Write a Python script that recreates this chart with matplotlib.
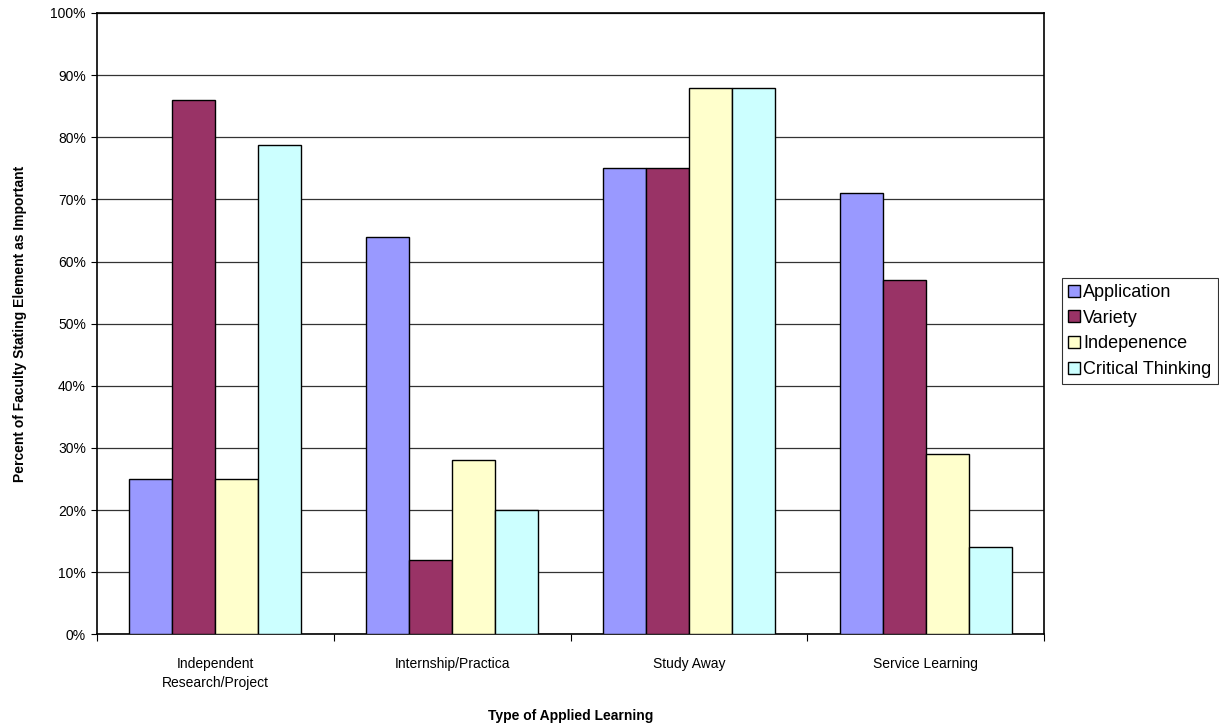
import numpy as np
import matplotlib
matplotlib.use("Agg")
import matplotlib.pyplot as plt
from matplotlib.ticker import PercentFormatter

plt.rcParams['font.family'] = ['Liberation Sans', 'DejaVu Sans']

categories = ["Independent\nResearch/Project", "Internship/Practica", "Study Away", "Service Learning"]
series_names = ["Application", "Variety", "Indepenence", "Critical Thinking"]
application = [25, 64, 75, 71]
variety = [86, 12, 75, 57]
independence = [25, 28, 88, 29]
critical_thinking = [78.7, 20, 88, 14]
colors = ["#9999FF", "#993366", "#FFFFCC", "#CCFFFF"]

W, H = 1219, 727
fig = plt.figure(figsize=(W / 100, H / 100), dpi=100)
ax = fig.add_axes([97 / W, (H - 634.3) / H, (1044 - 97) / W, (634.3 - 13) / H])

n_series = 4
gap = 1.5
bar_w = 1.0 / (n_series + gap)
x = np.arange(len(categories))
all_values = [application, variety, independence, critical_thinking]
for i, (vals, name, col) in enumerate(zip(all_values, series_names, colors)):
    offs = (i - (n_series - 1) / 2) * bar_w
    ax.bar(x + offs, vals, width=bar_w, color=col, edgecolor="black",
           linewidth=1.0, label=name, zorder=3)

ax.set_xlim(-0.5, len(categories) - 0.5)
ax.set_ylim(0, 100)
ax.set_yticks(np.arange(0, 101, 10))
ax.yaxis.set_major_formatter(PercentFormatter(decimals=0))
ax.grid(axis="y", color="#333333", linewidth=0.9, zorder=0)

# category labels centred, tick marks on category boundaries
ax.set_xticks(x)
ax.set_xticklabels(categories, fontsize=10, linespacing=1.5)
ax.tick_params(axis="x", length=0, pad=16)
ax.set_xticks(np.arange(-0.5, len(categories) + 0.5, 1.0), minor=True)
ax.tick_params(axis="x", which="minor", length=5, width=0.8, direction="out")
ax.tick_params(axis="y", length=4, width=0.8, direction="out", labelsize=10, pad=4)

for s in ax.spines.values():
    s.set_color("black")
    s.set_linewidth(1.2)

ax.set_xlabel("Type of Applied Learning", fontsize=10, fontweight="bold", labelpad=14)
ax.set_ylabel("Percent of Faculty Stating Element as Important", fontsize=10,
              fontweight="bold", labelpad=17)

leg = fig.legend(loc="center left", bbox_to_anchor=(1062 / W, (H - 331) / H),
                 fontsize=13, frameon=True, fancybox=False, shadow=False,
                 handlelength=0.67, handleheight=0.67, handletextpad=0.15,
                 labelspacing=0.48, borderpad=0.35, borderaxespad=0)
leg.get_frame().set_edgecolor("black")
leg.get_frame().set_linewidth(0.8)

fig.savefig("out.png", dpi=100)
